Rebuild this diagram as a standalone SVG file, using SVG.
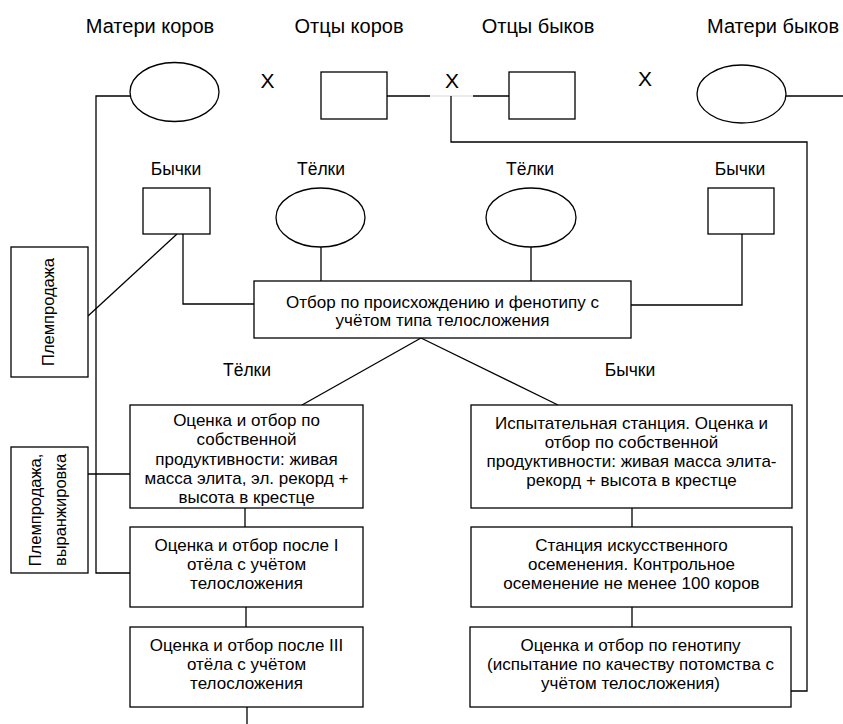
<svg xmlns="http://www.w3.org/2000/svg" width="843" height="724" viewBox="0 0 843 724">
<style>
text{font-family:"Liberation Sans",Arial,sans-serif;fill:#000}
.lbl{font-size:20px;text-anchor:middle}
.sm{font-size:17.5px;text-anchor:middle}
.x{font-size:21px;text-anchor:middle}
.bt{font-size:17px;text-anchor:middle}
.rt{font-size:16.5px;text-anchor:middle}
.sh{fill:#fff;stroke:#000;stroke-width:1.3}
.ln{fill:none;stroke:#000;stroke-width:1.3}
</style>
<rect width="843" height="724" fill="#fff"/>
<g id="labels">
<text class="lbl" x="150" y="33">Матери коров</text>
<text class="lbl" x="349" y="33">Отцы коров</text>
<text class="lbl" x="538" y="33">Отцы быков</text>
<text class="lbl" x="707" y="33" style="text-anchor:start">Матери быков</text>
<text class="x" x="267.5" y="88">X</text>
<text class="x" x="452" y="88">X</text>
<text class="x" x="645" y="86">X</text>
<text class="sm" x="176" y="175">Бычки</text>
<text class="sm" x="321" y="175">Тёлки</text>
<text class="sm" x="530" y="175">Тёлки</text>
<text class="sm" x="740" y="175">Бычки</text>
<text class="sm" x="247" y="376">Тёлки</text>
<text class="sm" x="630" y="376">Бычки</text>
</g>
<g id="connectors">
<polyline class="ln" points="131,96 96,96 96,573 130,573"/>
<line class="ln" x1="88" y1="474" x2="130" y2="474"/>
<line class="ln" x1="387" y1="96" x2="430" y2="96"/>
<line x1="430" y1="96" x2="473" y2="96" stroke="#d8d8d8" stroke-width="1"/>
<line class="ln" x1="473" y1="96" x2="509" y2="96"/>
<polyline class="ln" points="451,96 451,142 807,142 807,691 791,691"/>
<line class="ln" x1="786" y1="96" x2="843" y2="96"/>
<polyline class="ln" points="183,234 183,304 254,304"/>
<line class="ln" x1="177" y1="234" x2="88" y2="316"/>
<line class="ln" x1="321" y1="247" x2="321" y2="281"/>
<line class="ln" x1="531" y1="247" x2="531" y2="281"/>
<polyline class="ln" points="742,234 742,305 631,305"/>
<line class="ln" x1="421" y1="338" x2="302" y2="405"/>
<line class="ln" x1="421" y1="338" x2="558" y2="405"/>
<line class="ln" x1="245" y1="508" x2="245" y2="527"/>
<line class="ln" x1="246" y1="607" x2="246" y2="627"/>
<line class="ln" x1="247" y1="707" x2="247" y2="724"/>
<line class="ln" x1="632" y1="508" x2="632" y2="527"/>
<line class="ln" x1="632" y1="607" x2="632" y2="627"/>
</g>
<g id="mothers-cows"><ellipse class="sh" cx="174.5" cy="92" rx="44.5" ry="29.5"/></g>
<g id="fathers-cows"><rect class="sh" x="321" y="72" width="66" height="47"/></g>
<g id="fathers-bulls"><rect class="sh" x="509" y="72" width="66" height="47"/></g>
<g id="mothers-bulls"><ellipse class="sh" cx="741.5" cy="94" rx="44.5" ry="29"/></g>
<g id="bulls-left"><rect class="sh" x="143" y="188" width="67" height="46"/></g>
<g id="heifers-left"><ellipse class="sh" cx="320.5" cy="217.5" rx="44.5" ry="29.5"/></g>
<g id="heifers-right"><ellipse class="sh" cx="531" cy="217.5" rx="45" ry="29.5"/></g>
<g id="bulls-right"><rect class="sh" x="708" y="188" width="66" height="46"/></g>
<g id="selection">
<rect class="sh" x="254" y="281" width="377" height="57"/>
<text class="bt" x="442.5" y="308">Отбор по происхождению и фенотипу с</text>
<text class="bt" x="442.5" y="326">учётом типа телосложения</text>
</g>
<g id="plemprodazha">
<rect class="sh" x="11" y="247" width="77" height="130"/>
<text class="rt" transform="translate(54,312) rotate(-90)" x="0" y="0">Племпродажа</text>
</g>
<g id="plemprodazha-vyranzh">
<rect class="sh" x="11" y="447" width="77" height="126"/>
<text class="rt" transform="translate(41,510) rotate(-90)" x="0" y="0">Племпродажа,</text>
<text class="rt" transform="translate(66,510) rotate(-90)" x="0" y="0">выранжировка</text>
</g>
<g id="heifers-own">
<rect class="sh" x="130" y="405" width="233" height="103"/>
<text class="bt" x="246.5" y="426">Оценка и отбор по</text>
<text class="bt" x="246.5" y="445.3">собственной</text>
<text class="bt" x="246.5" y="464.6">продуктивности: живая</text>
<text class="bt" x="246.5" y="484">масса элита, эл. рекорд +</text>
<text class="bt" x="246.5" y="503">высота в крестце</text>
</g>
<g id="heifers-calving1">
<rect class="sh" x="130" y="527" width="233" height="80"/>
<text class="bt" x="246.5" y="551">Оценка и отбор после I</text>
<text class="bt" x="246.5" y="570">отёла с учётом</text>
<text class="bt" x="246.5" y="589">телосложения</text>
</g>
<g id="heifers-calving3">
<rect class="sh" x="130" y="627" width="233" height="80"/>
<text class="bt" x="246.5" y="651">Оценка и отбор после III</text>
<text class="bt" x="246.5" y="670">отёла с учётом</text>
<text class="bt" x="246.5" y="689">телосложения</text>
</g>
<g id="test-station">
<rect class="sh" x="471" y="405" width="321" height="103"/>
<text class="bt" x="631.5" y="429">Испытательная станция. Оценка и</text>
<text class="bt" x="631.5" y="448">отбор по собственной</text>
<text class="bt" x="631.5" y="467">продуктивности: живая масса элита-</text>
<text class="bt" x="631.5" y="486">рекорд + высота в крестце</text>
</g>
<g id="ai-station">
<rect class="sh" x="471" y="527" width="321" height="80"/>
<text class="bt" x="631.5" y="551">Станция искусственного</text>
<text class="bt" x="631.5" y="570">осеменения. Контрольное</text>
<text class="bt" x="631.5" y="589">осеменение не менее 100 коров</text>
</g>
<g id="genotype">
<rect class="sh" x="470" y="627" width="321" height="80"/>
<text class="bt" x="630.5" y="651">Оценка и отбор по генотипу</text>
<text class="bt" x="630.5" y="670">(испытание по качеству потомства с</text>
<text class="bt" x="630.5" y="689">учётом телосложения)</text>
</g>
</svg>
